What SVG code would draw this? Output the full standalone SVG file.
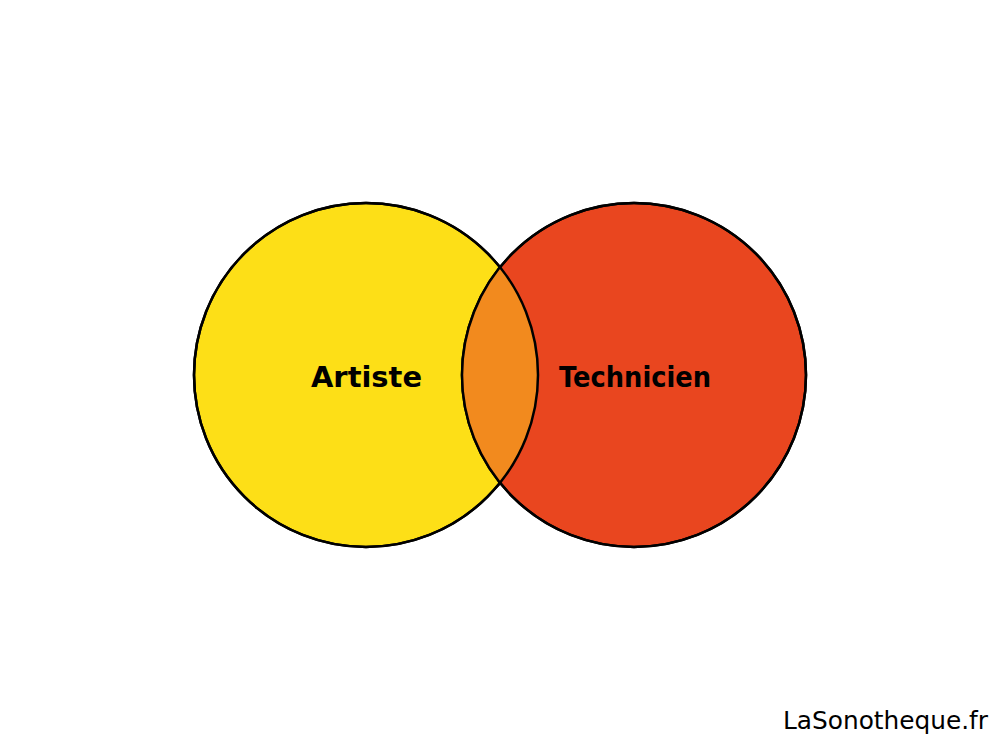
<svg xmlns="http://www.w3.org/2000/svg" width="1000" height="750" viewBox="0 0 1000 750">
<defs>
<style>
.lbl{font-family:"Comic Sans MS","DejaVu Sans",sans-serif;font-weight:bold;fill:#000}
.c{stroke:#000;stroke-width:2.5}
.o{fill:none;stroke:#000;stroke-width:2.5}
</style>
<clipPath id="clipL"><circle cx="366" cy="375" r="172"/></clipPath>
</defs>
<rect width="1000" height="750" fill="#fff"/>
<g id="artiste">
<circle class="c" cx="366" cy="375" r="172" fill="#FDDF17"/>
</g>
<g id="technicien">
<circle class="c" cx="634" cy="375" r="172" fill="#E9461F"/>
</g>
<g id="intersection">
<circle cx="634" cy="375" r="172" fill="#F28A1E" clip-path="url(#clipL)"/>
<circle class="o" cx="366" cy="375" r="172"/>
<circle class="o" cx="634" cy="375" r="172"/>
</g>
<g id="labels">
<text class="lbl" x="311" y="387" font-size="29" textLength="111" lengthAdjust="spacingAndGlyphs">Artiste</text>
<text class="lbl" x="559" y="387" font-size="29" textLength="152" lengthAdjust="spacingAndGlyphs">Technicien</text>
<text x="783" y="729" font-family="'Comic Sans MS','DejaVu Sans',sans-serif" font-size="24" textLength="205" lengthAdjust="spacingAndGlyphs">LaSonotheque.fr</text>
</g>
</svg>
